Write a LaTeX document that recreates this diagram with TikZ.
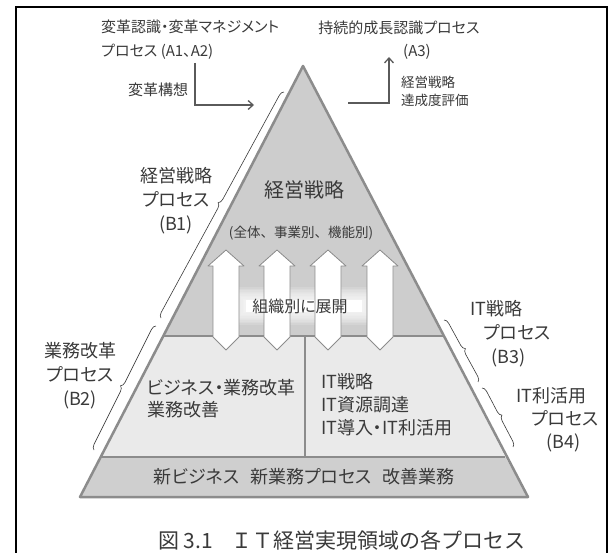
\documentclass[tikz,border=0pt]{standalone}
\usepackage{fontspec}
\setmainfont{Noto Sans CJK JP}[CharacterWidth=AlternateProportional]
\newfontfamily\capfont{Noto Sans CJK JP}
\usetikzlibrary{arrows.meta,decorations.pathreplacing}
\definecolor{txt}{HTML}{3A3A3A}
\definecolor{edge}{HTML}{8C8C8C}
\definecolor{conngray}{HTML}{5A5A5A}
\definecolor{topfill}{HTML}{CDCDCD}
\definecolor{midfill}{HTML}{EAEAEA}
\definecolor{botfill}{HTML}{CFCFCF}
\begin{document}
\begin{tikzpicture}[x=1pt,y=-1pt,
  lbl/.style={text=txt, inner sep=0pt, align=center},
  conn/.style={draw=conngray, line width=1.3pt, -{Straight Barb[length=5pt,width=9pt]}},
  brc/.style={draw=txt, line width=0.6pt, decorate, decoration={brace, amplitude=5pt}},
  blockarrow/.style={fill=white, draw=edge, line width=0.8pt, line join=round},
  sec/.style={draw=edge, line width=2.5pt, line join=round}
]
\useasboundingbox (0,0) rectangle (613,553);
\fill[white] (0,0) rectangle (613,553);
\draw[line width=1.8pt] (16,7) rectangle (607,600);

% triangle sections
\fill[topfill] (303,66) -- (163.3,336) -- (442.7,336) -- cycle;
\fill[midfill] (163.3,336) -- (442.7,336) -- (505.3,457) -- (100.7,457) -- cycle;
\fill[botfill] (100.7,457) -- (505.3,457) -- (528,497) -- (80,497) -- cycle;

% glow behind deployment text
\foreach \i in {0,...,9} {
  \fill[white, opacity=0.14] (244-\i*1.5, 300-\i*1.4) rectangle (364+\i*1.5, 312+\i*1.4);
}
\fill[white] (246,300) rectangle (362,312);

\draw[edge, line width=2.5pt] (163.3,336) -- (442.7,336);
\draw[edge, line width=2pt] (100.7,457) -- (505.3,457);
\draw[edge, line width=1.5pt] (305,336) -- (305,457);

% block arrows
\foreach \cx in {226,277,328,380} {
  \filldraw[blockarrow] (\cx,250) -- (\cx+18,266) -- (\cx+13,266) -- (\cx+13,337)
    -- (\cx,350) -- (\cx-13,337) -- (\cx-13,266) -- (\cx-18,266) -- cycle;
}

\draw[sec] (303,66) -- (528,497) -- (80,497) -- cycle;

% texts inside
\node[lbl, font=\fontsize{20}{20}\selectfont] (strat) at (304,190) {経営戦略};
\node[lbl, font=\capfont\fontsize{13.5}{13.5}\selectfont] (scope) at (301,233) {(全体、事業別、機能別)};
\node[lbl, font=\fontsize{16}{16}\selectfont] (deploy) at (300,306) {組織別に展開};
\node[lbl, align=left, anchor=west, font=\fontsize{18}{22}\selectfont] (biz) at (147,399) {ビジネス・業務改革\\業務改善};
\node[lbl, align=left, anchor=west, font=\fontsize{18}{23}\selectfont] (itbox) at (321,405) {IT戦略\\IT資源調達\\IT導入・IT利活用};
\node[lbl, font=\fontsize{18}{18}\selectfont] (newbiz) at (304,477) {新ビジネス\hspace{0.6em}新業務プロセス\hspace{0.6em}改善業務};

% top labels and connectors
\node[lbl, align=left, anchor=west, font=\fontsize{15}{24}\selectfont] (a12) at (101,40) {変革認識・変革マネジメント\\プロセス (A1、A2)};
\node[lbl, font=\fontsize{15}{15}\selectfont] (a3name) at (399,28) {持続的成長認識プロセス};
\node[lbl, font=\fontsize{15}{15}\selectfont] (a3code) at (417,52) {(A3)};
\node[lbl, font=\fontsize{15}{15}\selectfont] (vision) at (158,90) {変革構想};
\node[lbl, align=left, anchor=west, font=\fontsize{13.5}{18}\selectfont] (evaltxt) at (401,91) {経営戦略\\達成度評価};

\coordinate (p1) at (195,63);
\coordinate (p1e) at (254,105);
\draw[conn] (p1) |- (p1e);
\coordinate (p2) at (348,103);
\coordinate (p2e) at (389,57);
\draw[conn] (p2) -| (p2e);

% process labels
\node[lbl, font=\fontsize{18}{24}\selectfont] (b1) at (176,201) {経営戦略\\プロセス\\(B1)};
\node[lbl, font=\fontsize{18}{24}\selectfont] (b2) at (80,376) {業務改革\\プロセス\\(B2)};
\node[lbl, align=left, anchor=west, font=\fontsize{18}{24}\selectfont] (b3) at (470,334) {IT戦略\\\hspace*{13pt}プロセス\\\hspace*{21pt}(B3)};
\node[lbl, align=left, anchor=west, font=\fontsize{18}{23}\selectfont] (b4) at (516,420) {IT利活用\\\hspace*{15pt}プロセス\\\hspace*{30pt}(B4)};

% braces
\coordinate (b1s) at (161,318); \coordinate (b1e) at (284,92);
\coordinate (b2s) at (94,450);  \coordinate (b2e) at (156,326);
\coordinate (b3s) at (444,320); \coordinate (b3e) at (478,382);
\coordinate (b4s) at (482,388); \coordinate (b4e) at (513,447);
\draw[brc] (b1s) -- (b1e);
\draw[brc] (b2s) -- (b2e);
\draw[brc] (b3s) -- (b3e);
\draw[brc] (b4s) -- (b4e);

% caption
\node[lbl, font=\capfont\fontsize{21}{21}\selectfont] (cap) at (342,540) {図 3.1\hspace{0.9em}ＩＴ経営実現領域の各プロセス};
\end{tikzpicture}
\end{document}
